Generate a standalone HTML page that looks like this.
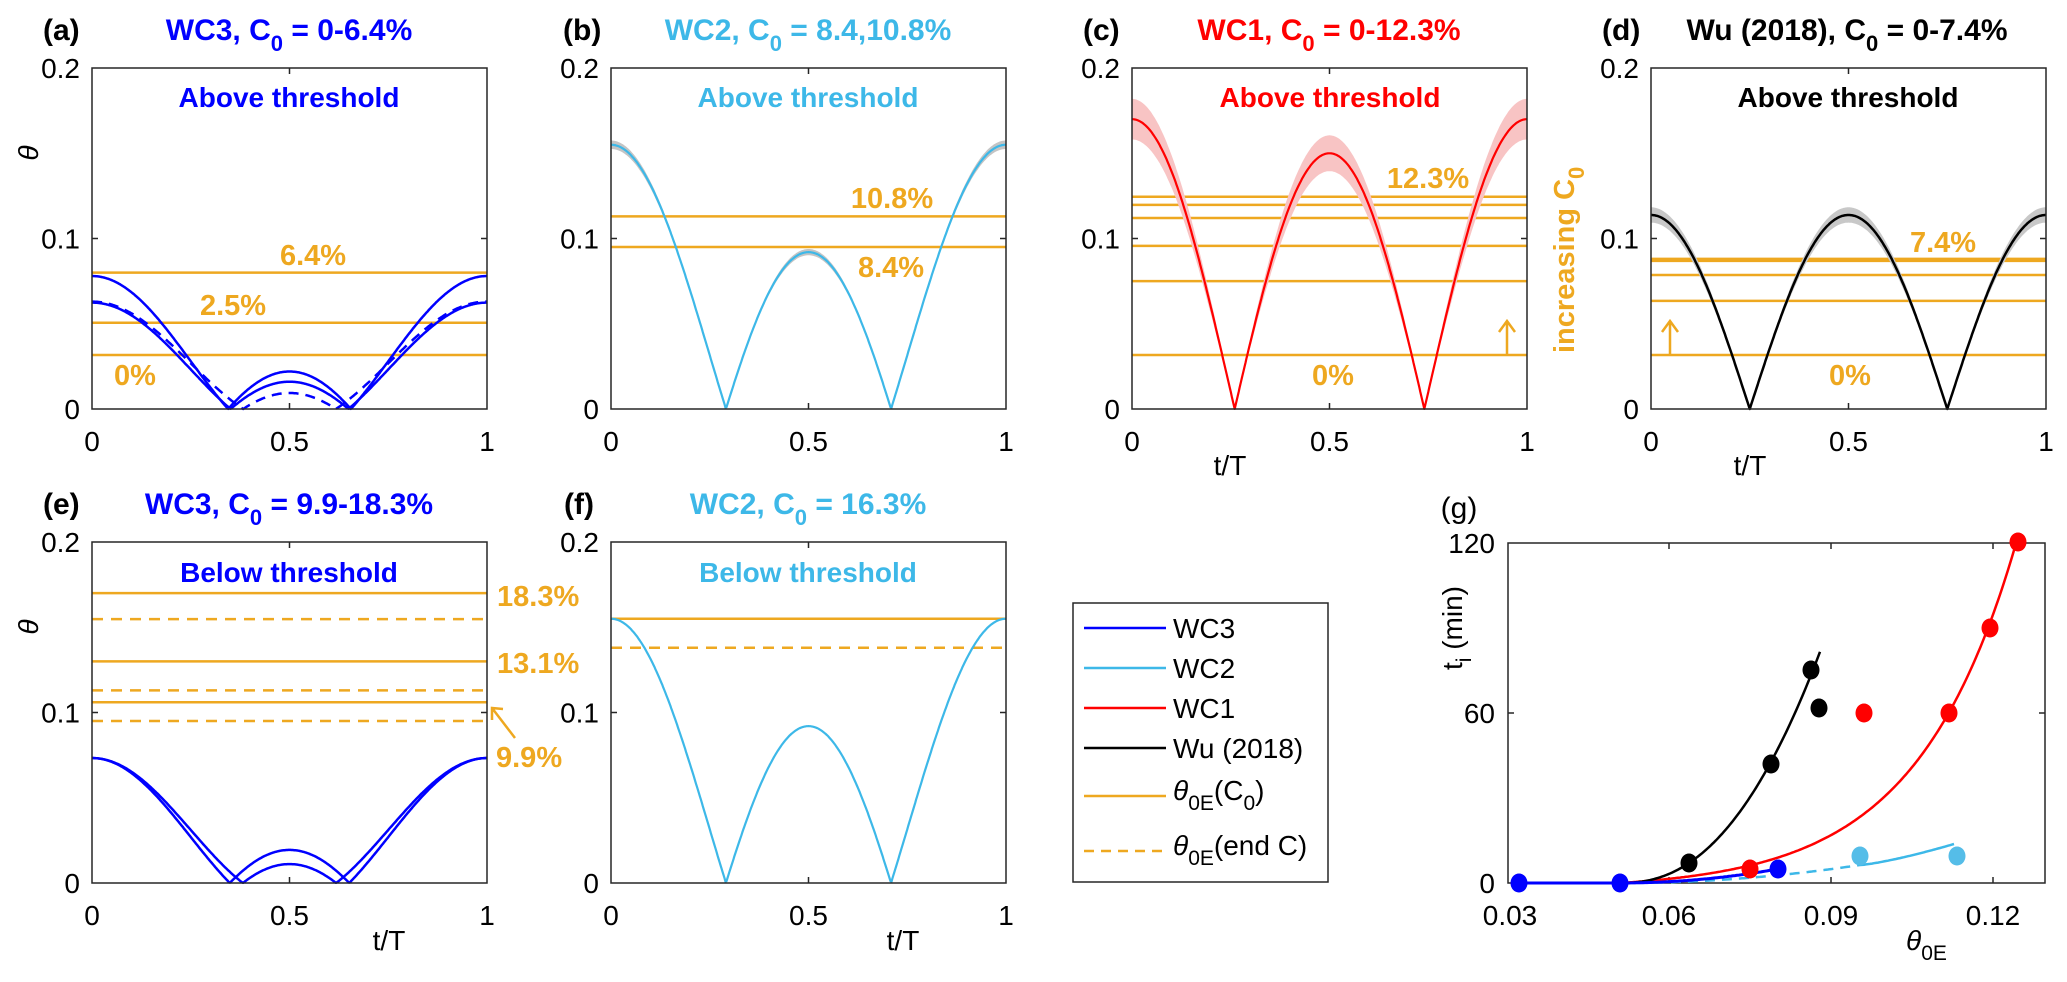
<!DOCTYPE html>
<html><head><meta charset="utf-8">
<style>
html,body{margin:0;padding:0;background:#fff;}
svg{display:block;font-family:"Liberation Sans",Arial,sans-serif;}
</style></head>
<body>
<svg id="s" xmlns="http://www.w3.org/2000/svg" width="2067" height="982" viewBox="0 0 2067 982">
<g id="plots"></g>
<g font-weight="bold" font-size="30">
<text x="43" y="40">(a)</text>
<text x="563" y="40">(b)</text>
<text x="1083" y="40">(c)</text>
<text x="1602" y="40">(d)</text>
<text x="43" y="514">(e)</text>
<text x="564" y="514">(f)</text>
<text x="1459" y="518" text-anchor="middle" font-weight="normal">(g)</text>
<text x="289" y="40" text-anchor="middle" fill="#0000ff">WC3, C<tspan font-size="22" dy="11">0</tspan><tspan dy="-11"> = 0-6.4%</tspan></text>
<text x="808" y="40" text-anchor="middle" fill="#3db8e8">WC2, C<tspan font-size="22" dy="11">0</tspan><tspan dy="-11"> = 8.4,10.8%</tspan></text>
<text x="1329" y="40" text-anchor="middle" fill="#ff0000">WC1, C<tspan font-size="22" dy="11">0</tspan><tspan dy="-11"> = 0-12.3%</tspan></text>
<text x="1847" y="40" text-anchor="middle" fill="#000">Wu (2018), C<tspan font-size="22" dy="11">0</tspan><tspan dy="-11"> = 0-7.4%</tspan></text>
<text x="289" y="514" text-anchor="middle" fill="#0000ff">WC3, C<tspan font-size="22" dy="11">0</tspan><tspan dy="-11"> = 9.9-18.3%</tspan></text>
<text x="808" y="514" text-anchor="middle" fill="#3db8e8">WC2, C<tspan font-size="22" dy="11">0</tspan><tspan dy="-11"> = 16.3%</tspan></text>
</g>
<g font-weight="bold" font-size="28" text-anchor="middle">
<text x="289" y="107" fill="#0000ff">Above threshold</text>
<text x="808" y="107" fill="#3db8e8">Above threshold</text>
<text x="1330" y="107" fill="#ff0000">Above threshold</text>
<text x="1848" y="107" fill="#000">Above threshold</text>
<text x="289" y="582" fill="#0000ff">Below threshold</text>
<text x="808" y="582" fill="#3db8e8">Below threshold</text>
</g>
<g font-weight="bold" font-size="29" fill="#eea820">
<text x="313" y="265" text-anchor="middle">6.4%</text>
<text x="233" y="315" text-anchor="middle">2.5%</text>
<text x="135" y="385" text-anchor="middle">0%</text>
<text x="892" y="208" text-anchor="middle">10.8%</text>
<text x="891" y="277" text-anchor="middle">8.4%</text>
<text x="1428" y="188" text-anchor="middle">12.3%</text>
<text x="1333" y="385" text-anchor="middle">0%</text>
<text x="1943" y="252" text-anchor="middle">7.4%</text>
<text x="1850" y="385" text-anchor="middle">0%</text>
<text x="497" y="606">18.3%</text>
<text x="497" y="673">13.1%</text>
<text x="496" y="767">9.9%</text>
<text x="1574" y="353" transform="rotate(-90 1574 353)">increasing C<tspan font-size="22" dy="10">0</tspan></text>
</g>
<g stroke="#eea820" stroke-width="2.5" fill="none">
<path d="M1507 356 L1507 322 M1499 332 L1507 321 L1515 332"/>
<path d="M1670 356 L1670 322 M1662 332 L1670 321 L1678 332"/>
<path d="M515 738 L492 708 M492 720 L492 708 L503 709"/>
</g>
<g font-size="28" fill="#000">
<text x="0" y="0" font-style="italic" transform="translate(38 153) rotate(-90)" text-anchor="middle">θ</text>
<text x="0" y="0" font-style="italic" transform="translate(38 627) rotate(-90)" text-anchor="middle">θ</text>
<text x="1230" y="475" text-anchor="middle">t/T</text>
<text x="1750" y="475" text-anchor="middle">t/T</text>
<text x="389" y="950" text-anchor="middle">t/T</text>
<text x="903" y="950" text-anchor="middle">t/T</text>
<text x="1906" y="950"><tspan font-style="italic">θ</tspan><tspan font-size="21" dy="10">0E</tspan></text>
<text x="0" y="0" transform="translate(1462 628) rotate(-90)" text-anchor="middle">t<tspan font-size="21" dy="9">i</tspan><tspan dy="-9"> (min)</tspan></text>
</g>
<g>
<rect x="1073" y="603" width="255" height="279" fill="#fff" stroke="#262626" stroke-width="1.5"/>
<g stroke-width="2.5">
<line x1="1084" y1="628" x2="1166" y2="628" stroke="#0000ff"/>
<line x1="1084" y1="668" x2="1166" y2="668" stroke="#3db8e8"/>
<line x1="1084" y1="708" x2="1166" y2="708" stroke="#ff0000"/>
<line x1="1084" y1="748" x2="1166" y2="748" stroke="#000"/>
<line x1="1084" y1="796" x2="1166" y2="796" stroke="#eea820"/>
<line x1="1084" y1="851" x2="1166" y2="851" stroke="#eea820" stroke-dasharray="10 7"/>
</g>
<g font-size="28" fill="#000">
<text x="1173" y="638">WC3</text>
<text x="1173" y="678">WC2</text>
<text x="1173" y="718">WC1</text>
<text x="1173" y="758">Wu (2018)</text>
<text x="1173" y="800"><tspan font-style="italic">θ</tspan><tspan font-size="21" dy="10">0E</tspan><tspan dy="-10">(C</tspan><tspan font-size="21" dy="10">0</tspan><tspan dy="-10">)</tspan></text>
<text x="1173" y="855"><tspan font-style="italic">θ</tspan><tspan font-size="21" dy="10">0E</tspan><tspan dy="-10">(end C)</tspan></text>
</g>
</g>
</svg>
<script>
const NS='http://www.w3.org/2000/svg';
const G=document.getElementById('plots');
function el(tag,a,txt){const e=document.createElementNS(NS,tag);for(const k in a)e.setAttribute(k,a[k]);if(txt!==undefined)e.textContent=txt;G.appendChild(e);return e;}
const OR='#eea820',AX='#262626';
function panel(x0,y0){
  const w=395,h=341;
  const P={X:t=>x0+t*w,Y:v=>y0+h-v/0.2*h};
  P.axes=function(){
    el('rect',{x:x0,y:y0,width:w,height:h,fill:'none',stroke:AX,'stroke-width':1.5});
    const xm=x0+w/2,ym=y0+h/2;
    el('path',{d:`M${xm} ${y0} v6 M${xm} ${y0+h} v-6 M${x0} ${ym} h6 M${x0+w} ${ym} h-6`,stroke:AX,'stroke-width':1.5});
    [['0.2',y0],['0.1',ym],['0',y0+h]].forEach(([s,y])=>el('text',{x:x0-12,y:y+10,'font-size':28,'text-anchor':'end'},s));
    [['0',x0],['0.5',xm],['1',x0+w]].forEach(([s,x])=>el('text',{x:x,y:y0+h+42,'font-size':28,'text-anchor':'middle'},s));
  };
  P.hline=function(v,dash,sw){const a={x1:x0,x2:x0+w,y1:P.Y(v),y2:P.Y(v),stroke:OR,'stroke-width':sw||2.5};if(dash)a['stroke-dasharray']='11 8';el('line',a);};
  P.curve=function(A,B,col,sw,dash,band,bandCol,bandAbs){
    const N=400;let pts=[];
    for(let i=0;i<=N;i++){const t=i/N;pts.push([t,Math.abs(A*Math.cos(2*Math.PI*t)+B)]);}
    if(band){
      const bw=(p)=>{const c=Math.cos(2*Math.PI*p[0]);return Math.min(p[1]*band,bandAbs*(0.4+0.6*c*c));};
      let up=pts.map(p=>P.X(p[0]).toFixed(1)+','+P.Y(p[1]+bw(p)).toFixed(1));
      let dn=pts.slice().reverse().map(p=>P.X(p[0]).toFixed(1)+','+P.Y(Math.max(0,p[1]-bw(p))).toFixed(1));
      el('polygon',{points:up.concat(dn).join(' '),fill:bandCol,stroke:'none'});
    }
    const a={points:pts.map(p=>P.X(p[0]).toFixed(1)+','+P.Y(p[1]).toFixed(1)).join(' '),fill:'none',stroke:col,'stroke-width':sw||2.5,'stroke-linejoin':'round'};
    if(dash)a['stroke-dasharray']='10 7';
    el('polyline',a);
  };
  return P;
}
const BL='#0000ff',LB='#3db8e8',RD='#ff0000';
let a=panel(92,68);
a.hline(0.080);a.hline(0.0506);a.hline(0.0317);
a.curve(0.050,0.028,BL,2.5);
a.curve(0.0392,0.0232,BL,2.5);
a.curve(0.0362,0.0268,BL,2.5,true);
a.axes();
let b=panel(611,68);
b.hline(0.113);b.hline(0.095);
b.curve(0.1235,0.0315,LB,2.2,false,0.02,'#c4c4c4',0.0025);
b.axes();
let c=panel(1132,68);
[0.1245,0.1197,0.112,0.0957,0.075,0.0317].forEach(v=>c.hline(v));
c.curve(0.16,0.01,RD,2.2,false,0.07,'#f8c4c4',0.012);
c.axes();
let d=panel(1651,68);
d.hline(0.0875,false,4.5);d.hline(0.0786);d.hline(0.0634);d.hline(0.0317);
d.curve(0.1138,0,'#000',2.5,false,0.04,'#c8c8c8',0.0045);
d.axes();
let e=panel(92,542);
e.hline(0.170);e.hline(0.1548,true);e.hline(0.130);e.hline(0.113,true);e.hline(0.106);e.hline(0.095,true);
e.curve(0.04635,0.02695,BL,2.5);
e.curve(0.0422,0.0311,BL,2.5);
e.axes();
let f=panel(611,542);
f.hline(0.155);f.hline(0.138,true);
f.curve(0.1235,0.0315,LB,2.2);
f.axes();
(function(){
  const x0=1508,y0=543,w=537,h=340;
  el('rect',{x:x0,y:y0,width:w,height:h,fill:'none',stroke:AX,'stroke-width':1.5});
  let d='';
  [1669,1831,1993].forEach(x=>{d+=`M${x} ${y0} v6 M${x} ${y0+h} v-6 `;});
  d+=`M${x0} 713 h6 M${x0+w} 713 h-6`;
  el('path',{d:d,stroke:AX,'stroke-width':1.5});
  [['120',543],['60',713],['0',883]].forEach(([s,y])=>el('text',{x:x0-13,y:y+10,'font-size':28,'text-anchor':'end'},s));
  [['0.03',1510],['0.06',1669],['0.09',1831],['0.12',1993]].forEach(([s,x])=>el('text',{x:x,y:925,'font-size':28,'text-anchor':'middle'},s));
  function fn(f,xa,xb){let p=[];for(let x=xa;x<=xb;x+=2)p.push(x.toFixed(1)+','+f(x).toFixed(1));p.push(xb+','+f(xb).toFixed(1));return p.join(' ');}
  el('polyline',{points:fn(x=>883-6.6*(Math.exp(0.01*Math.max(0,x-1620))-1),1620,2018),fill:'none',stroke:RD,'stroke-width':2.5});
  el('polyline',{points:fn(x=>883-20*Math.pow(Math.max(0,x-1620)/69,2.3),1620,1820),fill:'none',stroke:'#000','stroke-width':2.5});
  el('polyline',{points:fn(x=>883-18*Math.pow(Math.max(0,x-1620)/240,2),1620,1860),fill:'none',stroke:LB,'stroke-width':2.5,'stroke-dasharray':'10 7'});
  el('polyline',{points:fn(x=>865-21*Math.pow((x-1860)/94,1.3),1860,1954),fill:'none',stroke:LB,'stroke-width':2.5});
  el('polyline',{points:fn(x=>883-14*Math.pow(Math.max(0,x-1620)/158,2),1519,1778),fill:'none',stroke:BL,'stroke-width':3});
  const pts=[[1519,883,BL],[1620,883,BL],[1778,869,BL],
    [1689,863,'#000'],[1771,764,'#000'],[1811,670,'#000'],[1819,708,'#000'],
    [1750,869,RD],[1864,713,RD],[1949,713,RD],[1990,628,RD],[2018,542,RD],
    [1860,856,'#55bde8'],[1957,856,'#55bde8']];
  pts.forEach(p=>el('ellipse',{cx:p[0],cy:p[1],rx:8.5,ry:9.5,fill:p[2]}));
})();
</script>
</body></html>
